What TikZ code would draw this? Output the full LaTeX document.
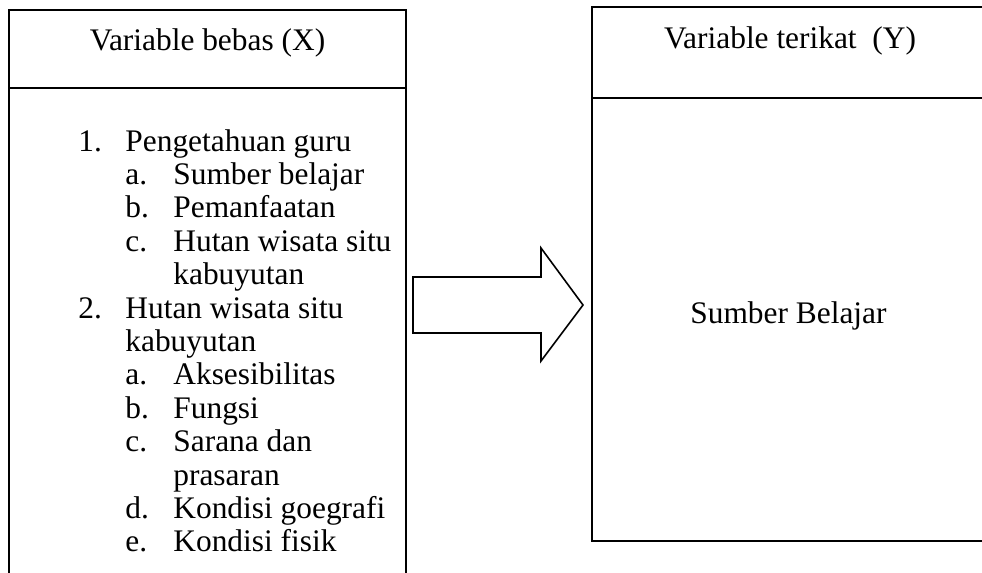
\documentclass[tikz,border=0pt]{standalone}
\usepackage{fontspec}
\setmainfont{Liberation Serif}
\begin{document}
\begin{tikzpicture}[x=0.5pt,y=-0.5pt,
  txt/.style={inner sep=0pt, font=\fontsize{15.7}{16.7}\selectfont},
  boxline/.style={draw, line width=0.8pt},
  bigarrow/.style={draw, line width=0.8pt, line join=miter, fill=white}]
\useasboundingbox (0,0) rectangle (982,573);
\clip (0,0) rectangle (982,573);
% left box (variable bebas)
\coordinate (lbl) at (9,600);
\coordinate (ltl) at (9,10);
\coordinate (ltr) at (406,10);
\coordinate (lbr) at (406,600);
\coordinate (lhl) at (9,88);
\coordinate (lhr) at (406,88);
\draw[boxline] (lbl) -- (ltl) -- (ltr) -- (lbr);
\draw[boxline] (lhl) -- (lhr);
% right box (variable terikat)
\coordinate (rtl) at (592,7);
\coordinate (rtr) at (990,7);
\coordinate (rbr) at (990,541);
\coordinate (rbl) at (592,541);
\coordinate (rhl) at (592,98);
\coordinate (rhr) at (990,98);
\draw[boxline] (rtl) -- (rtr) -- (rbr) -- (rbl) -- cycle;
\draw[boxline] (rhl) -- (rhr);
% block arrow
\coordinate (a1) at (413,277);
\coordinate (a2) at (541,277);
\coordinate (a3) at (541,248);
\coordinate (tip) at (583,305);
\coordinate (a5) at (541,361);
\coordinate (a6) at (541,333);
\coordinate (a7) at (413,333);
\draw[bigarrow] (a1) -- (a2) -- (a3) -- (tip) -- (a5) -- (a6) -- (a7) -- cycle;
% headers
\node[txt, anchor=base] (hx) at (207.5,50) {Variable bebas (X)};
\node[txt, anchor=base] (hy) at (790,48) {Variable terikat\ \ (Y)};
\node[txt, anchor=base] (sb) at (788.5,323) {Sumber Belajar};
% list
\node[txt, anchor=base west] (n1) at (78,151) {1.};
\node[txt, anchor=base west] (t1) at (125,151) {Pengetahuan guru};
\node[txt, anchor=base west] (n1a) at (125,184.4) {a.};
\node[txt, anchor=base west] (t1a) at (173,184.4) {Sumber belajar};
\node[txt, anchor=base west] (n1b) at (125,217.8) {b.};
\node[txt, anchor=base west] (t1b) at (173,217.8) {Pemanfaatan};
\node[txt, anchor=base west] (n1c) at (125,251.2) {c.};
\node[txt, anchor=base west] (t1c) at (173,251.2) {Hutan wisata situ};
\node[txt, anchor=base west] (t1c2) at (173,284.6) {kabuyutan};
\node[txt, anchor=base west] (n2) at (78,318) {2.};
\node[txt, anchor=base west] (t2) at (125,318) {Hutan wisata situ};
\node[txt, anchor=base west] (t22) at (125,351.4) {kabuyutan};
\node[txt, anchor=base west] (n2a) at (125,384.8) {a.};
\node[txt, anchor=base west] (t2a) at (173,384.8) {Aksesibilitas};
\node[txt, anchor=base west] (n2b) at (125,418.2) {b.};
\node[txt, anchor=base west] (t2b) at (173,418.2) {Fungsi};
\node[txt, anchor=base west] (n2c) at (125,451.6) {c.};
\node[txt, anchor=base west] (t2c) at (173,451.6) {Sarana dan};
\node[txt, anchor=base west] (t2c2) at (173,485) {prasaran};
\node[txt, anchor=base west] (n2d) at (125,518.4) {d.};
\node[txt, anchor=base west] (t2d) at (173,518.4) {Kondisi goegrafi};
\node[txt, anchor=base west] (n2e) at (125,551.8) {e.};
\node[txt, anchor=base west] (t2e) at (173,551.8) {Kondisi fisik};
\end{tikzpicture}
\end{document}
